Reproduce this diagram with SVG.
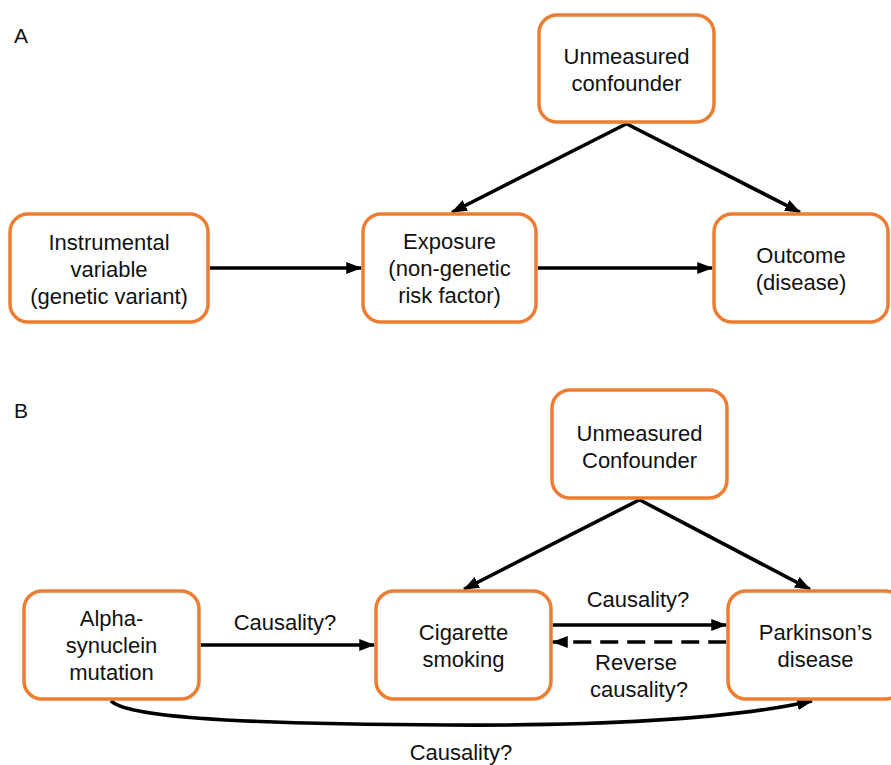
<svg xmlns="http://www.w3.org/2000/svg" width="891" height="765" viewBox="0 0 891 765">
<defs>
<marker id="ah" markerUnits="userSpaceOnUse" markerWidth="16" markerHeight="13" viewBox="0 0 16 13" refX="15" refY="6.5" orient="auto">
<path d="M0,0.5 L16,6.5 L0,12.5 z" fill="#000"/>
</marker>
<style>
.box{fill:#fff;stroke:#ED7D31;stroke-width:3.5}
.t{font-family:"Liberation Sans",Arial,sans-serif;font-size:22px;fill:#111;text-anchor:middle}
.lbl{font-family:"Liberation Sans",Arial,sans-serif;font-size:21px;fill:#111}
.c{fill:none;stroke:#000;stroke-width:3.6;marker-end:url(#ah)}
.d{stroke-dasharray:18 9}
</style>
</defs>
<rect width="891" height="765" fill="#fff"/>
<text class="lbl" x="14" y="43">A</text>
<text class="lbl" x="14" y="418">B</text>
<g id="connectors">
<path class="c" d="M209.75,268 L361.25,268"/>
<path class="c" d="M537.75,268 L712.25,268"/>
<path class="c" d="M626.5,123.75 L452,212.25"/>
<path class="c" d="M626.5,123.75 L800,212.25"/>
<path class="c" d="M200.75,645 L374.25,645"/>
<path class="c" d="M552.75,625 L726.25,625"/>
<path class="c d" d="M726.25,642 L552.75,642"/>
<path class="c" d="M639.5,499.75 L464,589.25"/>
<path class="c" d="M639.5,499.75 L810,589.25"/>
<path class="c" d="M111,700.75 C125,716 220,724 450,725 C620,726 740,717 812,701"/>
<text class="t" x="285" y="630">Causality?</text>
<text class="t" x="638" y="607">Causality?</text>
<text class="t" x="636" y="670">Reverse</text>
<text class="t" x="639" y="697">causality?</text>
<text class="t" x="461" y="760">Causality?</text>
</g>
<g id="a-confounder">
<rect class="box" x="539" y="15" width="175" height="107" rx="18"/>
<text class="t" x="626.5" y="64">Unmeasured</text>
<text class="t" x="626.5" y="91">confounder</text>
</g>
<g id="a-instrument">
<rect class="box" x="10" y="214" width="198" height="108" rx="18"/>
<text class="t" x="109" y="250">Instrumental</text>
<text class="t" x="109" y="277">variable</text>
<text class="t" x="109" y="304">(genetic variant)</text>
</g>
<g id="a-exposure">
<rect class="box" x="363" y="214" width="173" height="108" rx="18"/>
<text class="t" x="449.5" y="249">Exposure</text>
<text class="t" x="449.5" y="276">(non-genetic</text>
<text class="t" x="449.5" y="303">risk factor)</text>
</g>
<g id="a-outcome">
<rect class="box" x="714" y="214" width="174" height="108" rx="18"/>
<text class="t" x="801" y="263">Outcome</text>
<text class="t" x="801" y="290">(disease)</text>
</g>
<g id="b-confounder">
<rect class="box" x="552" y="390" width="175" height="108" rx="18"/>
<text class="t" x="639.5" y="441">Unmeasured</text>
<text class="t" x="639.5" y="468">Confounder</text>
</g>
<g id="b-alpha">
<rect class="box" x="24" y="591" width="175" height="108" rx="18"/>
<text class="t" x="111.5" y="626">Alpha-</text>
<text class="t" x="111.5" y="653">synuclein</text>
<text class="t" x="111.5" y="680">mutation</text>
</g>
<g id="b-smoking">
<rect class="box" x="376" y="591" width="175" height="108" rx="18"/>
<text class="t" x="463.5" y="640">Cigarette</text>
<text class="t" x="463.5" y="667">smoking</text>
</g>
<g id="b-parkinsons">
<rect class="box" x="728" y="591" width="175" height="108" rx="18"/>
<text class="t" x="815.5" y="640">Parkinson’s</text>
<text class="t" x="815.5" y="667">disease</text>
</g>
</svg>
